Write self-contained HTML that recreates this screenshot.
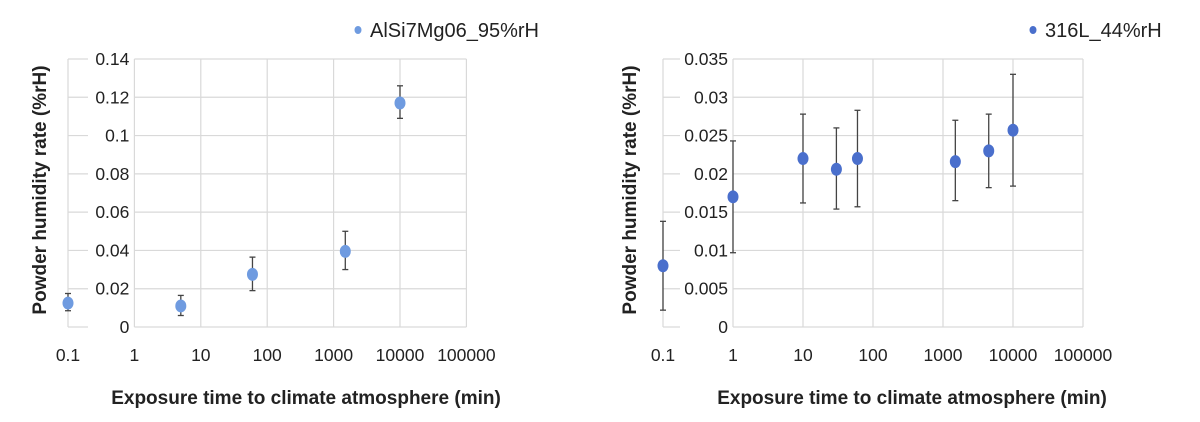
<!DOCTYPE html>
<html><head><meta charset="utf-8"><style>
html,body{margin:0;padding:0;background:#fff;width:1200px;height:422px;overflow:hidden}
svg{display:block;font-family:"Liberation Sans",sans-serif}
</style></head><body>
<svg id="c" width="1200" height="422" viewBox="0 0 1200 422"></svg>
<script>
const xTicks=[0.1,1,10,100,1000,10000,100000];
const xTickLabels=["0.1","1","10","100","1000","10000","100000"];
const aX=[0.1,5,60,1500,10000];
const aY=[0.0125,0.011,0.0275,0.0395,0.117];
const aHi=[0.0175,0.0165,0.0365,0.050,0.126];
const aLo=[0.0085,0.006,0.019,0.030,0.109];
const aYTicks=[0,0.02,0.04,0.06,0.08,0.1,0.12,0.14];
const aYLabels=["0","0.02","0.04","0.06","0.08","0.1","0.12","0.14"];
const bX=[0.1,1,10,30,60,1500,4500,10000];
const bY=[0.008,0.017,0.022,0.0206,0.022,0.0216,0.023,0.0257];
const bHi=[0.0138,0.0243,0.0278,0.026,0.0283,0.027,0.0278,0.033];
const bLo=[0.0022,0.0097,0.0162,0.0154,0.0157,0.0165,0.0182,0.0184];
const bYTicks=[0,0.005,0.01,0.015,0.02,0.025,0.03,0.035];
const bYLabels=["0","0.005","0.01","0.015","0.02","0.025","0.03","0.035"];
const svg=document.getElementById('c');
const NS='http://www.w3.org/2000/svg';
function mk(tag,attrs,parent){const e=document.createElementNS(NS,tag);for(const k in attrs)e.setAttribute(k,attrs[k]);(parent||svg).appendChild(e);return e;}
function chart(cfg){
  const g=mk('g',{});
  
  
  const x0=cfg.x0,dec=cfg.dec,yTop=59,yBot=327,yMax=cfg.yMax;
  const sx=v=>x0+(Math.log10(v)+1)*dec;
  const sy=v=>yBot-(v/yMax)*(yBot-yTop);
  const xEnd=sx(100000);
  cfg.yTicks.forEach((t,i)=>{
    const y=sy(t);
    const l1=mk('line',{x1:sx(0.1),x2:sx(0.1)+cfg.stub,y1:y,y2:y,stroke:'#d9d9d9','stroke-width':1.2},g);
    
    
    const l2=mk('line',{x1:sx(1),x2:xEnd,y1:y,y2:y,stroke:'#d9d9d9','stroke-width':1.2},g);
    
    
    const tx=mk('text',{x:sx(1)-5,y:y+6,'text-anchor':'end','font-size':17.5,fill:'#222'},g);
    tx.textContent=cfg.yLabels[i];
    
    
  });
  xTicks.forEach((t,i)=>{
    const x=sx(t);
    const l=mk('line',{x1:x,x2:x,y1:yTop,y2:yBot,stroke:'#d9d9d9','stroke-width':1.2},g);
    
    
    const tx=mk('text',{x:x,y:361,'text-anchor':'middle','font-size':17.5,fill:'#222'},g);
    tx.textContent=xTickLabels[i];
    
    
  });
  cfg.xs.forEach((xv,i)=>{
    const x=sx(xv);
    const e=mk('g',{stroke:'#444','stroke-width':1.3},g);
    
    
    mk('line',{x1:x,x2:x,y1:sy(cfg.hi[i]),y2:sy(cfg.lo[i])},e);
    mk('line',{x1:x-3,x2:x+3,y1:sy(cfg.hi[i]),y2:sy(cfg.hi[i])},e);
    mk('line',{x1:x-3,x2:x+3,y1:sy(cfg.lo[i]),y2:sy(cfg.lo[i])},e);
  });
  cfg.xs.forEach((xv,i)=>{
    const p=mk('ellipse',{cx:sx(xv),cy:sy(cfg.ys[i]),rx:5.5,ry:6.5,fill:cfg.color},g);
    
    
  });
  const yt=mk('text',{x:0,y:0,transform:`translate(${cfg.ytx},190) rotate(-90)`,'text-anchor':'middle','font-size':19,'font-weight':'bold',fill:'#222'},g);
  yt.textContent='Powder humidity rate (%rH)';
  
  
  const xt=mk('text',{x:cfg.xtx,y:404,'text-anchor':'middle','font-size':19,'font-weight':'bold',fill:'#222'},g);
  xt.textContent='Exposure time to climate atmosphere (min)';
  
  
  const lg=mk('g',{},g);
  
  
  mk('ellipse',{cx:cfg.lgx,cy:30,rx:3.5,ry:4,fill:cfg.color},lg);
  const lt=mk('text',{x:cfg.lgx+12,y:37,'font-size':20,fill:'#222'},lg);
  lt.textContent=cfg.label;
}
chart({name:'alsi-chart',x0:68,dec:66.4,yMax:0.14,yTicks:aYTicks,yLabels:aYLabels,xs:aX,ys:aY,hi:aHi,lo:aLo,color:'#6f9be0',stub:20,ytx:46,xtx:306,lgx:358,label:'AlSi7Mg06_95%rH'});
chart({name:'316l-chart',x0:663,dec:70,yMax:0.035,yTicks:bYTicks,yLabels:bYLabels,xs:bX,ys:bY,hi:bHi,lo:bLo,color:'#4a6fcc',stub:17,ytx:636,xtx:912,lgx:1033,label:'316L_44%rH'});
</script>
</body></html>
